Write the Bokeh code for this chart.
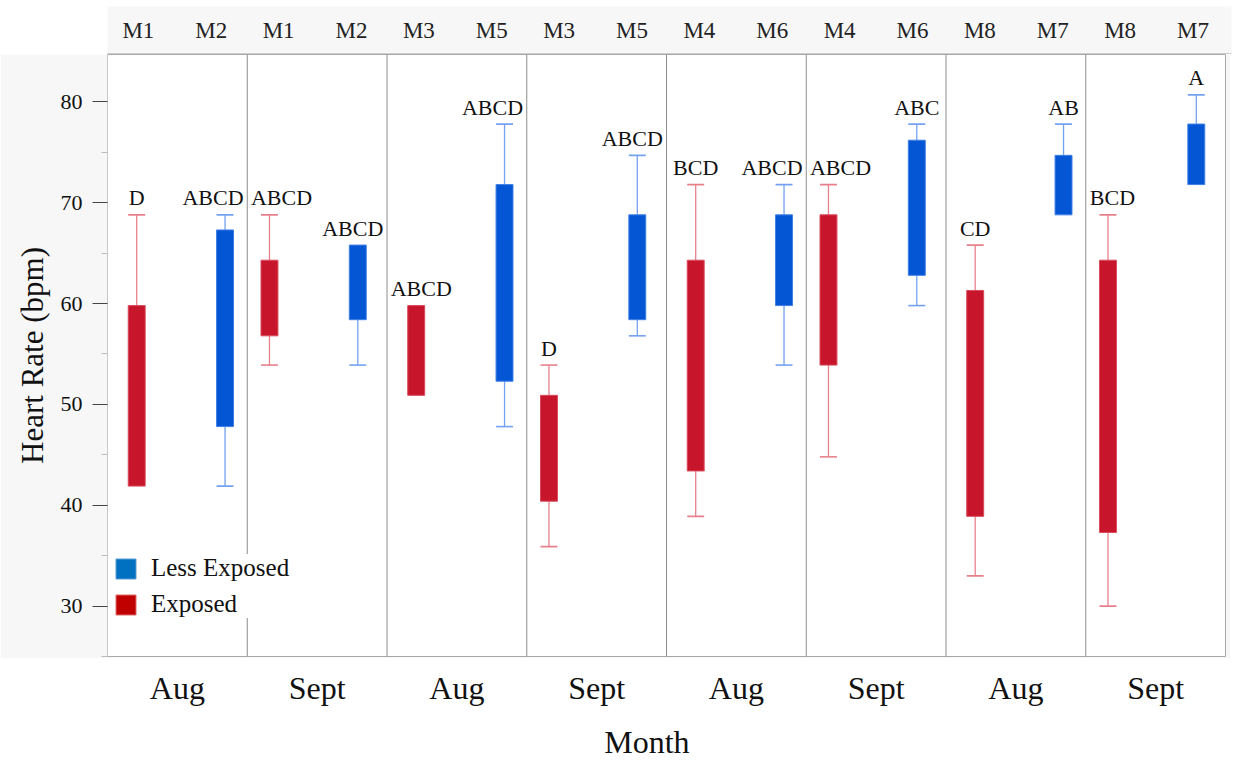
from bokeh.plotting import figure
from bokeh.layouts import column
from bokeh.models import Range1d, ColumnDataSource, Span, Legend, LegendItem, FixedTicker
from bokeh.core.properties import value
from bokeh.embed import file_html
from bokeh.resources import INLINE

# ---------------- data ----------------
months = ["Aug", "Aug", "Sept", "Sept", "Aug", "Aug", "Sept", "Sept",
          "Aug", "Aug", "Sept", "Sept", "Aug", "Aug", "Sept", "Sept"]
animals = ["M1", "M2", "M1", "M2", "M3", "M5", "M3", "M5",
           "M4", "M6", "M4", "M6", "M8", "M7", "M8", "M7"]
groups = ["Exposed", "Less Exposed"] * 8
low = [41.9, 41.9, 53.9, 53.9, 50.9, 47.8, 35.9, 56.8,
       38.9, 53.9, 44.8, 59.8, 33.0, 68.8, 30.0, 71.8]
q1 = [41.9, 47.8, 56.8, 58.4, 50.9, 52.3, 40.4, 58.4,
      43.4, 59.8, 53.9, 62.8, 38.9, 68.8, 37.3, 71.8]
q3 = [59.8, 67.3, 64.3, 65.8, 59.8, 71.8, 50.9, 68.8,
      64.3, 68.8, 68.8, 76.2, 61.3, 74.7, 64.3, 77.8]
high = [68.8, 68.8, 68.8, 65.8, 59.8, 77.8, 53.9, 74.7,
        71.8, 71.8, 71.8, 77.8, 65.8, 77.8, 68.8, 80.7]
letters = ["D", "ABCD", "ABCD", "ABCD", "ABCD", "ABCD", "D", "ABCD",
           "BCD", "ABCD", "ABCD", "ABC", "CD", "AB", "BCD", "A"]
month_labels = ["Aug", "Sept", "Aug", "Sept", "Aug", "Sept", "Aug", "Sept"]
y_ticks = [30, 40, 50, 60, 70, 80]
legend_labels = ["Less Exposed", "Exposed"]

# ---------------- styles / layout ----------------
FONT = "Liberation Serif"
GRAY = "#F7F7F7"
FRAME_L, FRAME_R = 107, 1229          # main plot frame (page px)
STRIP_R = 1231                        # header strip right edge
N_PANELS = len(month_labels)
PPU = (FRAME_R - FRAME_L) / N_PANELS
TOP_H, MAIN_H, BOT_H = 54, 604, 103

fill = {"Exposed": "#C7152B", "Less Exposed": "#0456D4"}
edge = {"Exposed": "#D94A5C", "Less Exposed": "#3F7FE6"}
whisk = {"Exposed": "#E8808C", "Less Exposed": "#74A2F0"}
legend_fill = {"Exposed": "#C00000", "Less Exposed": "#0070C0"}
legend_edge = {"Exposed": "#E06A6A", "Less Exposed": "#5C9BD6"}

n = len(groups)
panel = [i // 2 for i in range(n)]
shift = {"Aug": 0.025, "Sept": -0.025}
half = 0.316
bw = 17 / PPU
xs = [panel[i] + 0.5 + shift[months[i]] + (-half if groups[i] == "Exposed" else half)
      for i in range(n)]

# letter label x: keep each label inside its panel
lx = []
for i in range(n):
    hw = (len(letters[i]) * 15.2 / 2 + 4) / PPU
    lx.append(min(max(xs[i], panel[i] + hw), panel[i] + 1 - hw))

src = ColumnDataSource(dict(
    x=xs, q1=q1, q3=q3, high=high, low=low, letter=letters, lx=lx,
    fill=[fill[g] for g in groups], edge=[edge[g] for g in groups],
))

up = [i for i in range(n) if high[i] > q3[i]]
dn = [i for i in range(n) if low[i] < q1[i]]


def whisker_source(idx, start, end):
    return ColumnDataSource(dict(
        x=[xs[i] for i in idx], y0=[start[i] for i in idx], y1=[end[i] for i in idx],
        cx0=[xs[i] - bw / 2 for i in idx], cx1=[xs[i] + bw / 2 for i in idx],
        color=[whisk[groups[i]] for i in idx]))


src_up = whisker_source(up, q3, high)
src_dn = whisker_source(dn, q1, low)

# ---------------- header strip ----------------
top = figure(width=1236, height=TOP_H,
             x_range=Range1d(0, N_PANELS + (STRIP_R - FRAME_R) / PPU),
             y_range=Range1d(0, TOP_H - 6),
             x_axis_location=None, y_axis_location=None,
             min_border_left=FRAME_L, min_border_right=1236 - STRIP_R,
             min_border_top=6, min_border_bottom=0,
             background_fill_color=GRAY, border_fill_color="white",
             outline_line_color=None, toolbar_location=None, output_backend="svg")
top.grid.visible = False
head_x = [panel[i] + (0.22 if i % 2 == 0 else 0.74) for i in range(n)]
top.text(x=head_x, y=[24] * n, text=animals,
         text_font=value(FONT), text_font_size="23px", text_color="#222222",
         text_align="center", text_baseline="middle")
top.add_layout(Span(location=0.5, dimension="width", line_color="#a0a0a0", line_width=1))

# ---------------- main plot ----------------
xr = Range1d(0, N_PANELS)
p = figure(width=FRAME_R + 1, height=MAIN_H, x_range=xr, y_range=Range1d(25.0, 84.7),
           x_axis_location=None, toolbar_location=None, output_backend="svg",
           min_border_left=FRAME_L, min_border_right=1, min_border_top=0, min_border_bottom=2,
           border_fill_color=GRAY, background_fill_color="white",
           outline_line_color="#a8a8a8")
p.grid.visible = False

for k in range(1, N_PANELS):
    p.add_layout(Span(location=k, dimension="height", line_color="#8c8c8c", line_width=1))

for s in (src_up, src_dn):
    p.segment(x0="x", y0="y0", x1="x", y1="y1", line_color="color", line_width=1.3, source=s)
    p.segment(x0="cx0", y0="y1", x1="cx1", y1="y1", line_color="color", line_width=1.6, source=s)

p.vbar(x="x", width=bw, bottom="q1", top="q3", fill_color="fill",
       line_color="edge", line_width=1, source=src)

p.text(x="lx", y="high", text="letter", source=src,
       text_font=value(FONT), text_font_size="22px", text_color="#111111",
       text_align="center", text_baseline="middle", y_offset=-17)

ya = p.yaxis[0]
ya.ticker = FixedTicker(ticks=y_ticks, minor_ticks=[t + 5 for t in y_ticks[:-1]] + [y_ticks[0] - 5])
ya.axis_label = "Heart Rate (bpm)"
ya.axis_label_text_font = FONT
ya.axis_label_text_font_size = "31px"
ya.axis_label_text_font_style = "normal"
ya.axis_label_text_color = "#111111"
ya.axis_label_standoff = 8
ya.major_label_text_font = FONT
ya.major_label_text_font_size = "22px"
ya.major_label_text_color = "#111111"
ya.major_label_standoff = 10
ya.major_tick_out = 15
ya.major_tick_in = 0
ya.major_tick_line_color = "#444444"
ya.minor_tick_out = 6
ya.minor_tick_in = 0
ya.minor_tick_line_color = "#bbbbbb"
ya.axis_line_color = "#c8c8c8"

nan = float("nan")
leg_r = {}
for g in legend_labels:
    leg_r[g] = p.quad(left=[nan], right=[nan], top=[nan], bottom=[nan],
                      fill_color=legend_fill[g], line_color=legend_edge[g], line_width=1)
legend = Legend(items=[LegendItem(label=g, renderers=[leg_r[g]]) for g in legend_labels],
                location=(6, 38), glyph_width=25, glyph_height=25, label_standoff=13,
                padding=10, spacing=8, margin=0, border_line_color=None,
                background_fill_color="white", background_fill_alpha=1.0,
                label_text_font=FONT, label_text_font_size="25px",
                label_text_color="#111111")
p.add_layout(legend)

# ---------------- bottom labels ----------------
bot = figure(width=FRAME_R + 1, height=BOT_H, x_range=xr, y_range=Range1d(0, BOT_H),
             x_axis_location=None, y_axis_location=None,
             min_border_left=FRAME_L, min_border_right=1, min_border_top=0, min_border_bottom=0,
             outline_line_color=None, background_fill_color="white",
             border_fill_color="white", toolbar_location=None, output_backend="svg")
bot.grid.visible = False
bot.text(x=[k + 0.5 for k in range(N_PANELS)], y=[74] * N_PANELS, text=month_labels,
         text_font=value(FONT), text_font_size="32px", text_color="#111111",
         text_align="center", text_baseline="middle")
bot.text(x=[3.86], y=[20], text=["Month"],
         text_font=value(FONT), text_font_size="32px", text_color="#111111",
         text_align="center", text_baseline="middle")

layout = column(top, p, bot, spacing=0)
open("out.html", "w").write(file_html(layout, INLINE))
